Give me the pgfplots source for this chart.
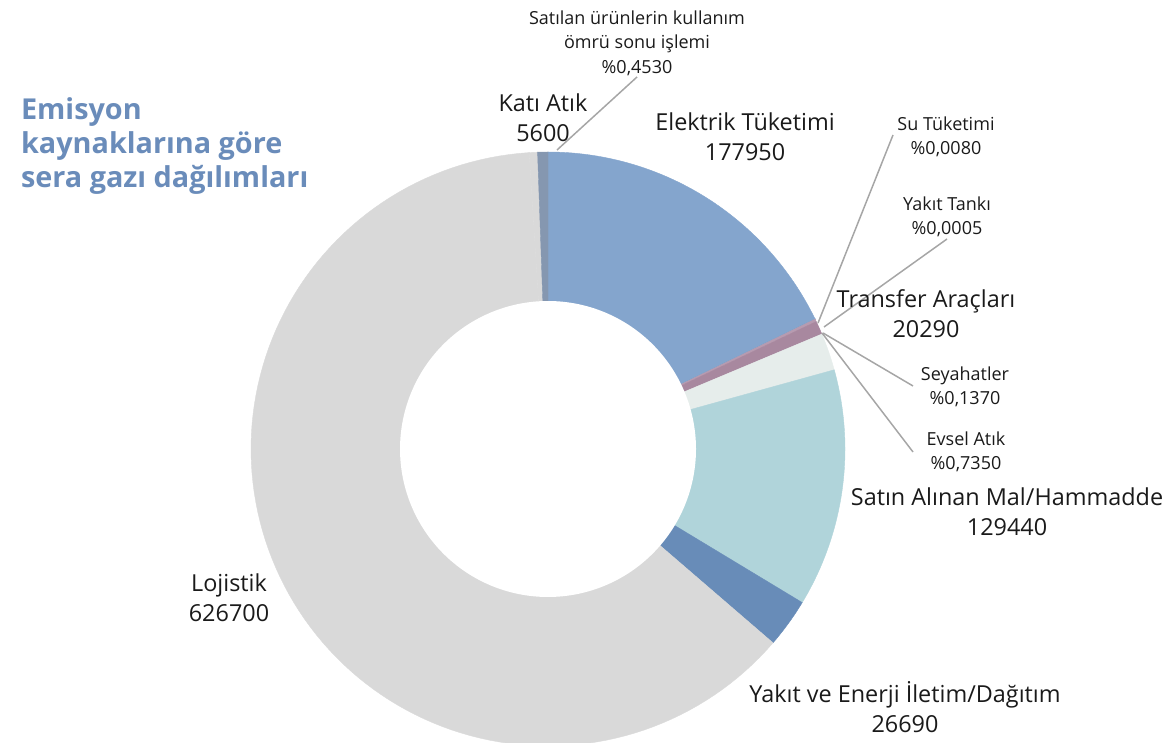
\documentclass[border=0pt]{standalone}
\usepackage{pgfplots}
\pgfplotsset{compat=1.18}
\usepackage{fontspec}
\setmainfont{Open Sans}
\definecolor{cElek}{HTML}{84A5CD}
\definecolor{cSu}{HTML}{7F9CC4}
\definecolor{cTank}{HTML}{9AA9C8}
\definecolor{cSey}{HTML}{B79BB0}
\definecolor{cEvsel}{HTML}{A8889F}
\definecolor{cTrans}{HTML}{E6EDEB}
\definecolor{cSatin}{HTML}{B0D4DA}
\definecolor{cYakit}{HTML}{688CB8}
\definecolor{cLoj}{HTML}{D9D9D9}
\definecolor{cKati}{HTML}{8597B0}
\definecolor{cTitle}{HTML}{6A8CBA}
\definecolor{cLead}{HTML}{A6A6A6}
\definecolor{cTxt}{HTML}{1A1A1A}
\tikzset{
  lblmain/.style={font=\fontsize{11.7pt}{15pt}\selectfont, text=cTxt, align=center},
  lblsmall/.style={font=\fontsize{9pt}{12.3pt}\selectfont, text=cTxt, align=center},
}
% slice: value, colour ; drawn clockwise from 12 o'clock
\def\curang{90}
\newcommand\slice[2]{%
  \xdef\angB{\fpeval{\curang-360*(#1)/1000005}}%
  \edef\temp{\noexpand\addplot[fill=#2, draw=#2, line width=0.2pt, domain=\angB:\curang, samples=120] ({548+297*cos(x)},{294+297*sin(x)}) -- (axis cs:548,294) -- cycle;}%
  \temp
  \xdef\curang{\angB}%
}
\begin{document}
\begin{tikzpicture}
\begin{axis}[
  scale only axis, width=582.5pt, height=371.5pt,
  xmin=0, xmax=1165, ymin=0, ymax=743,
  hide axis,
]
\slice{177950}{cElek}   % Elektrik Tüketimi
\slice{80}{cSu}         % Su Tüketimi
\slice{5}{cTank}        % Yakıt Tankı
\slice{1370}{cSey}      % Seyahatler
\slice{7350}{cEvsel}    % Evsel Atık
\slice{20290}{cTrans}   % Transfer Araçları
\slice{129440}{cSatin}  % Satın Alınan Mal/Hammadde
\slice{26690}{cYakit}   % Yakıt ve Enerji İletim/Dağıtım
\slice{626700}{cLoj}    % Lojistik
\slice{4530}{cLoj}      % Satılan ürünlerin kullanım ömrü sonu işlemi
\slice{5600}{cKati}     % Katı Atık
% hole of the donut
\addplot[fill=white, draw=none, domain=0:360, samples=240] ({548+148*cos(x)},{294+148*sin(x)}) -- cycle;
% leader lines
\addplot[cLead, line width=0.75pt] coordinates {(557,593) (637,666)};
\addplot[cLead, line width=0.75pt] coordinates {(818,420) (893,608)};
\addplot[cLead, line width=0.75pt] coordinates {(824,416) (947,504)};
\addplot[cLead, line width=0.75pt] coordinates {(823,410) (913,357)};
\addplot[cLead, line width=0.75pt] coordinates {(822,410) (913,291)};
% labels
\node[lblsmall] at (axis cs:637,700) {Satılan ürünlerin kullanım\\ömrü sonu işlemi\\\%0,4530};
\node[lblmain] at (axis cs:543,625) {Katı Atık\\5600};
\node[lblmain] at (axis cs:745,606) {Elektrik Tüketimi\\177950};
\node[lblsmall] at (axis cs:946,606) {Su Tüketimi\\\%0,0080};
\node[lblsmall] at (axis cs:947,526) {Yakıt Tankı\\\%0,0005};
\node[lblmain] at (axis cs:926,429) {Transfer Araçları\\20290};
\node[lblsmall] at (axis cs:965,356) {Seyahatler\\\%0,1370};
\node[lblsmall] at (axis cs:966,291) {Evsel Atık\\\%0,7350};
\node[lblmain] at (axis cs:1007,231) {Satın Alınan Mal/Hammadde\\129440};
\node[lblmain] at (axis cs:905,36) {Yakıt ve Enerji İletim/Dağıtım\\26690};
\node[lblmain] at (axis cs:229,145) {Lojistik\\626700};
\node[anchor=west, align=left, text=cTitle, font=\bfseries\fontsize{14.4pt}{17pt}\selectfont] at (axis cs:14,597) {Emisyon\\kaynaklarına göre\\sera gazı dağılımları};
\end{axis}
\pgfresetboundingbox
\path[use as bounding box] (0,0) rectangle (582.5pt,371.5pt);
\end{tikzpicture}
\end{document}
